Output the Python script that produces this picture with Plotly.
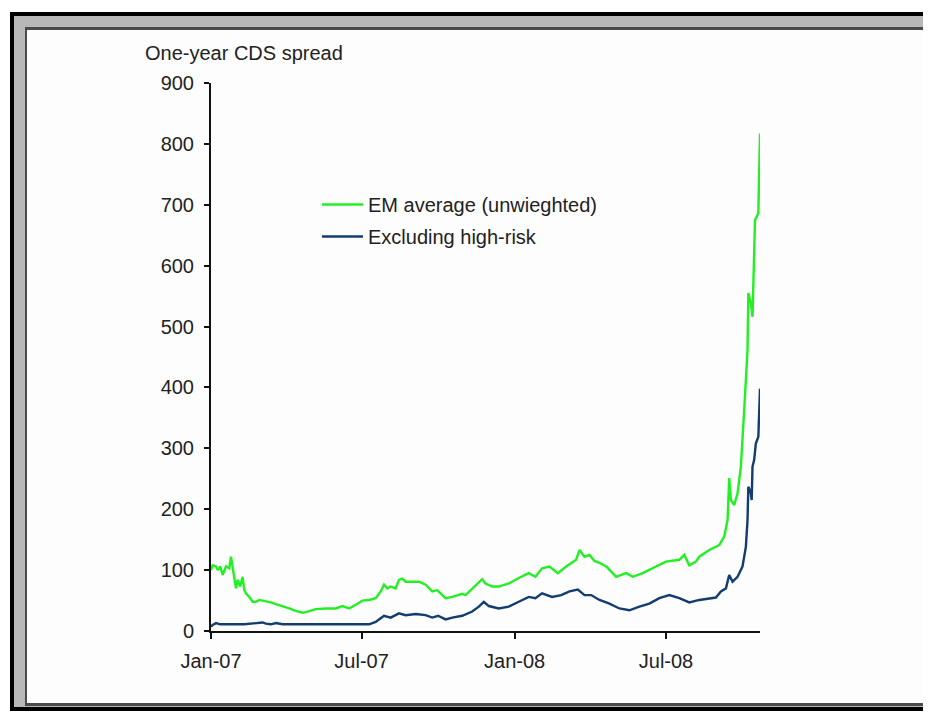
import plotly.graph_objects as go

# ---------------- data ----------------
em_dates = [
    "2007-01-01", "2007-01-03", "2007-01-07", "2007-01-09", "2007-01-12", "2007-01-15",
    "2007-01-19", "2007-01-23", "2007-01-25", "2007-01-27", "2007-01-29", "2007-01-31",
    "2007-02-02", "2007-02-05", "2007-02-08", "2007-02-10", "2007-02-12", "2007-02-16",
    "2007-02-20", "2007-02-24", "2007-02-28", "2007-03-04", "2007-03-08", "2007-03-14",
    "2007-03-20", "2007-03-28", "2007-04-05", "2007-04-13", "2007-04-21", "2007-04-25",
    "2007-04-29", "2007-05-07", "2007-05-19", "2007-05-31", "2007-06-08", "2007-06-16",
    "2007-06-24", "2007-07-02", "2007-07-10", "2007-07-18", "2007-07-24", "2007-07-28",
    "2007-08-01", "2007-08-05", "2007-08-11", "2007-08-15", "2007-08-19", "2007-08-23",
    "2007-08-31", "2007-09-08", "2007-09-16", "2007-09-24", "2007-09-30", "2007-10-10",
    "2007-10-18", "2007-10-30", "2007-11-03", "2007-11-11", "2007-11-19", "2007-11-23",
    "2007-11-27", "2007-12-05", "2007-12-13", "2007-12-25", "2008-01-06", "2008-01-18",
    "2008-01-26", "2008-02-03", "2008-02-12", "2008-02-22", "2008-03-03", "2008-03-15",
    "2008-03-19", "2008-03-25", "2008-03-31", "2008-04-06", "2008-04-12", "2008-04-21",
    "2008-05-02", "2008-05-14", "2008-05-22", "2008-06-03", "2008-06-19", "2008-07-01",
    "2008-07-17", "2008-07-23", "2008-07-29", "2008-08-06", "2008-08-10", "2008-08-22",
    "2008-09-03", "2008-09-09", "2008-09-13", "2008-09-15", "2008-09-17", "2008-09-21",
    "2008-09-25", "2008-09-29", "2008-10-03", "2008-10-07", "2008-10-08", "2008-10-11",
    "2008-10-13", "2008-10-15", "2008-10-16", "2008-10-20", "2008-10-21", "2008-10-22",
]
em_average = [
    100, 108, 106, 100, 106, 92,
    106, 103, 122, 106, 89, 70,
    84, 73, 89, 67, 62, 56,
    48, 48, 51, 50, 48, 47,
    44, 41, 37, 33, 30, 31,
    33, 36, 37, 37, 41, 37,
    43, 50, 51, 54, 65, 76,
    70, 73, 70, 84, 86, 81,
    81, 81, 76, 65, 67, 54,
    56, 61, 59, 70, 81, 85,
    78, 73, 73, 78, 87, 95,
    89, 103, 106, 95, 106, 117,
    133, 122, 125, 115, 112, 105,
    89, 95, 89, 95, 106, 114,
    117, 125, 108, 114, 122, 133,
    141, 155, 182, 251, 215, 207,
    226, 270, 363, 461, 555, 538,
    516, 609, 675, 686, 741, 817,
]

ex_dates = [
    "2007-01-01", "2007-01-03", "2007-01-07", "2007-01-12", "2007-02-10", "2007-03-04",
    "2007-03-08", "2007-03-14", "2007-03-20", "2007-03-28", "2007-07-10", "2007-07-18",
    "2007-07-24", "2007-07-28", "2007-08-05", "2007-08-15", "2007-08-23", "2007-09-04",
    "2007-09-16", "2007-09-24", "2007-10-01", "2007-10-10", "2007-10-18", "2007-10-30",
    "2007-11-11", "2007-11-19", "2007-11-25", "2007-12-01", "2007-12-13", "2007-12-25",
    "2008-01-06", "2008-01-18", "2008-01-26", "2008-02-03", "2008-02-15", "2008-02-26",
    "2008-03-07", "2008-03-17", "2008-03-25", "2008-04-02", "2008-04-12", "2008-04-24",
    "2008-05-06", "2008-05-18", "2008-05-30", "2008-06-11", "2008-06-23", "2008-07-05",
    "2008-07-17", "2008-07-29", "2008-08-10", "2008-08-22", "2008-08-30", "2008-09-05",
    "2008-09-11", "2008-09-15", "2008-09-19", "2008-09-25", "2008-10-01", "2008-10-05",
    "2008-10-07", "2008-10-08", "2008-10-11", "2008-10-12", "2008-10-13", "2008-10-15",
    "2008-10-17", "2008-10-20", "2008-10-21", "2008-10-22",
]
ex_high_risk = [
    7, 10, 13, 11, 11, 14,
    12, 11, 13, 11, 11, 15,
    21, 25, 22, 29, 26, 28,
    26, 22, 25, 19, 22, 25,
    32, 40, 48, 41, 37, 40,
    48, 56, 54, 62, 56, 59,
    65, 68, 59, 59, 51, 45,
    37, 34, 40, 45, 54, 59,
    54, 47, 51, 54, 55, 65,
    70, 92, 81, 89, 106, 138,
    182, 237, 226, 215, 270, 281,
    308, 319, 374, 398,
]

tick_dates = ["2007-01-01", "2007-07-01", "2008-01-01", "2008-07-01"]
tick_labels = ["Jan-07", "Jul-07", "Jan-08", "Jul-08"]
series_names = ["EM average (unwieghted)", "Excluding high-risk"]
y_title = "One-year CDS spread"

# ---------------- figure ----------------
OFF = 8  # the page body's default margin shifts the figure by 8 px
W, H = 931 - OFF, 713 - OFF
L, R, T, B = 211 - OFF, 760 - OFF, 83 - OFF, 631 - OFF  # plot area in figure pixels


def px(x):
    return (x - OFF - L) / (R - L)


def py(y):
    return (B - (y - OFF)) / (B - T)


FONT = "Liberation Sans, Arial, sans-serif"
TXT = "#222222"
FS = 20

fig = go.Figure()
fig.add_trace(go.Scatter(x=em_dates, y=em_average, mode="lines", name=series_names[0],
                         legendgroup="a", line=dict(color="#22f022", width=2.4)))
fig.add_trace(go.Scatter(x=ex_dates, y=ex_high_risk, mode="lines", name=series_names[1],
                         legendgroup="b", line=dict(color="#123d6e", width=2.4)))

shapes = [
    dict(type="rect", xref="paper", yref="paper", x0=px(10), x1=px(945), y0=py(12), y1=py(711),
         fillcolor="#000000", line=dict(width=0), layer="below"),
    dict(type="rect", xref="paper", yref="paper", x0=px(14), x1=px(945), y0=py(16), y1=py(707),
         fillcolor="#b8b8b8", line=dict(width=0), layer="below"),
    dict(type="rect", xref="paper", yref="paper", x0=px(25), x1=px(929), y0=py(27), y1=py(706),
         fillcolor="#4a4a4a", line=dict(width=0), layer="below"),
    dict(type="rect", xref="paper", yref="paper", x0=px(27), x1=px(928), y0=py(30), y1=py(703),
         fillcolor="#fdfdfd", line=dict(width=0), layer="below"),
]

fig.update_layout(
    width=W, height=H,
    margin=dict(l=L, r=W - R, t=T, b=H - B, pad=0),
    paper_bgcolor="#ffffff",
    plot_bgcolor="rgba(0,0,0,0)",
    font=dict(family=FONT, size=FS, color=TXT),
    shapes=shapes,
    showlegend=True,
    legend=dict(x=px(317), y=py(185), xanchor="left", yanchor="top", itemwidth=41,
                bgcolor="rgba(0,0,0,0)", borderwidth=0, tracegroupgap=3,
                font=dict(family=FONT, size=FS, color=TXT)),
    annotations=[dict(text=y_title, xref="paper", yref="paper", x=px(143), y=py(53),
                      xanchor="left", yanchor="middle", showarrow=False,
                      font=dict(family=FONT, size=FS, color=TXT))],
)
fig.update_xaxes(type="date", range=["2007-01-01", "2008-10-22"],
                 tickvals=tick_dates, ticktext=tick_labels,
                 showgrid=False, zeroline=False, showline=True, linecolor="#111111", linewidth=2,
                 ticks="outside", ticklen=6, tickwidth=2, tickcolor="#111111",
                 ticklabelstandoff=5, tickfont=dict(family=FONT, size=FS, color=TXT))
fig.update_yaxes(range=[0, 900], dtick=100, tick0=0,
                 showgrid=False, zeroline=False, showline=True, linecolor="#111111", linewidth=2,
                 ticks="outside", ticklen=5, tickwidth=2, tickcolor="#111111",
                 ticklabelstandoff=6, tickfont=dict(family=FONT, size=FS, color=TXT))

fig.write_html("out.html")
